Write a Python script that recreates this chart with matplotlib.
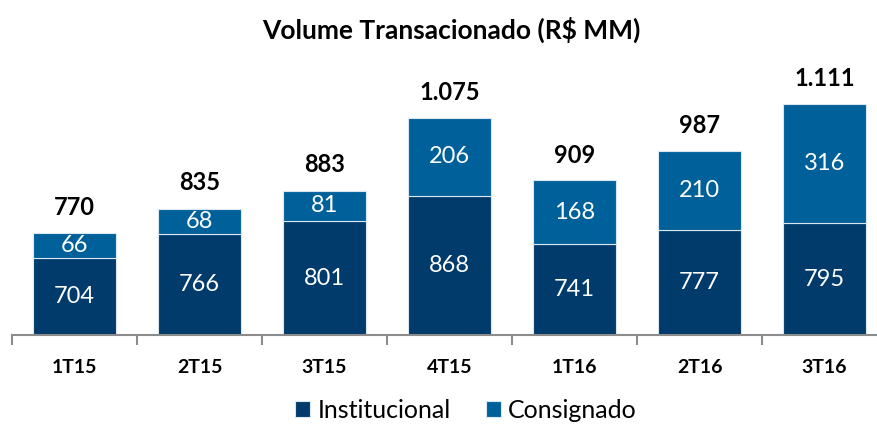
import numpy as np
import matplotlib.pyplot as plt

plt.rcParams['font.family'] = ['Lato', 'DejaVu Sans']

quarters = ["1T15", "2T15", "3T15", "4T15", "1T16", "2T16", "3T16"]
institucional = [704, 766, 801, 868, 741, 777, 795]
consignado = [66, 68, 81, 206, 168, 210, 316]
totals = [770, 835, 883, 1075, 909, 987, 1111]

DARK = "#003B6B"
LIGHT = "#00619A"

fig = plt.figure(figsize=(8.77, 4.24), dpi=100)
ax = fig.add_axes([12 / 877, 1 - 335 / 424, 875 / 877, 285 / 424])

x = np.arange(len(quarters))
base = 500
inst = np.array(institucional)
cons = np.array(consignado)
b1 = ax.bar(x, inst - base, bottom=base, width=0.66, color=DARK,
            edgecolor="#dce6ef", linewidth=0.8, label="Institucional")
b2 = ax.bar(x, cons, bottom=inst, width=0.66, color=LIGHT,
            edgecolor="#dce6ef", linewidth=0.8, label="Consignado")

for i in range(len(quarters)):
    ax.text(x[i], (base + inst[i]) / 2, str(inst[i]), ha="center", va="center",
            color="white", fontsize=17)
    ax.text(x[i], inst[i] + cons[i] / 2, str(cons[i]), ha="center", va="center",
            color="white", fontsize=17)
    ax.annotate(f"{totals[i]:,}".replace(",", "."), (x[i], totals[i]),
                xytext=(0, 10), textcoords="offset points", ha="center",
                va="bottom", fontsize=17, fontweight="bold")

ax.set_xlim(-0.5, len(quarters) - 0.5)
ax.set_ylim(base, base + 285 / 0.378)
ax.set_yticks([])
for s in ["top", "right", "left"]:
    ax.spines[s].set_visible(False)
ax.spines["bottom"].set_color("#8c8c8c")
ax.spines["bottom"].set_linewidth(1.5)
ax.set_xticks(x)
ax.set_xticklabels(quarters, fontsize=14, fontweight="bold")
ax.tick_params(axis="x", which="major", length=0, pad=17)
ax.set_xticks(np.arange(-0.5, len(quarters)), minor=True)
ax.tick_params(axis="x", which="minor", length=7, width=1.5, color="#8c8c8c",
               direction="out")

fig.text(451 / 877, 1 - 30 / 424, "Volume Transacionado (R$ MM)", ha="center",
         va="center", fontsize=19, fontweight="bold")

fig.legend(handles=[b1, b2], loc="center", bbox_to_anchor=(466 / 877, 1 - 410 / 424),
           ncol=2, frameon=False, fontsize=18, handlelength=0.6,
           handleheight=0.6, handletextpad=0.3, columnspacing=1.4)

fig.savefig("out.png", dpi=100)
